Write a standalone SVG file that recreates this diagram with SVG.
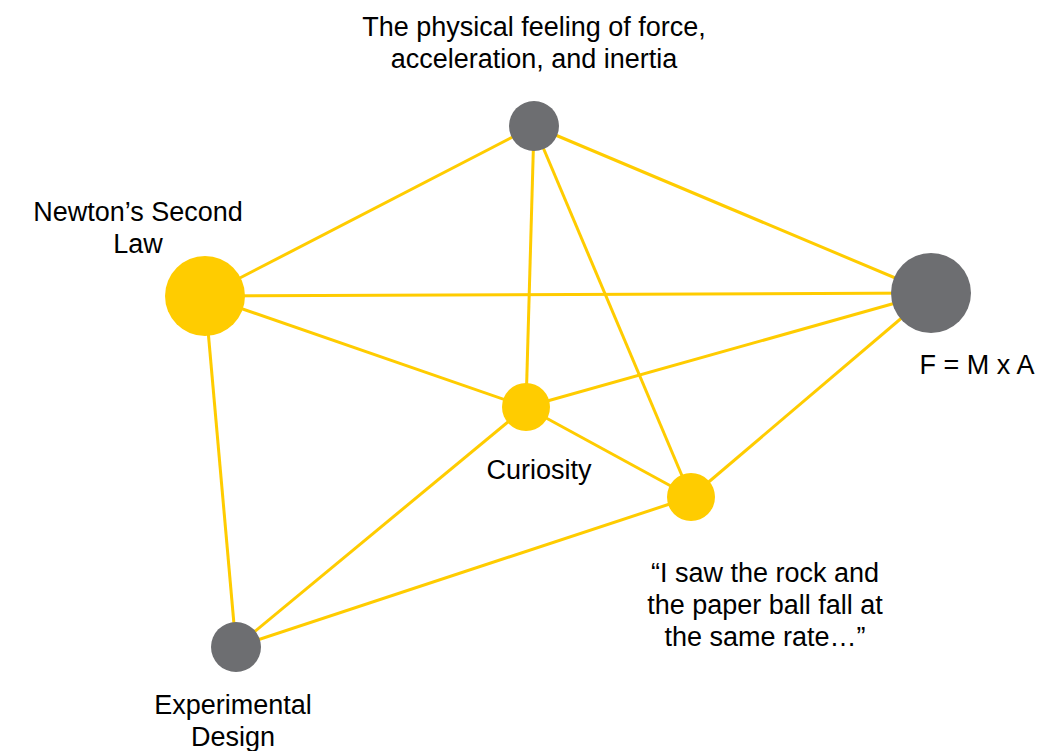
<svg xmlns="http://www.w3.org/2000/svg" width="1046" height="751" viewBox="0 0 1046 751">
<style>
.e{stroke:#FFCC00;stroke-width:3;fill:none}
.y{fill:#FFCC00}
.g{fill:#6D6E71}
text{font-family:"Liberation Sans",Arial,sans-serif;font-size:27px;fill:#000;text-anchor:middle}
</style>
<rect width="1046" height="751" fill="#fff"/>
<g id="connectors">
<line class="e" x1="534" y1="126" x2="205" y2="296"/>
<line class="e" x1="534" y1="126" x2="931" y2="293"/>
<line class="e" x1="534" y1="126" x2="526" y2="407"/>
<line class="e" x1="534" y1="126" x2="691" y2="497"/>
<line class="e" x1="205" y1="296" x2="931" y2="293"/>
<line class="e" x1="205" y1="296" x2="526" y2="407"/>
<line class="e" x1="205" y1="296" x2="236" y2="647"/>
<line class="e" x1="526" y1="407" x2="931" y2="293"/>
<line class="e" x1="526" y1="407" x2="691" y2="497"/>
<line class="e" x1="526" y1="407" x2="236" y2="647"/>
<line class="e" x1="691" y1="497" x2="931" y2="293"/>
<line class="e" x1="691" y1="497" x2="236" y2="647"/>
</g>
<g id="n-physical"><circle class="g" cx="534" cy="126" r="25"/><text x="534" y="36">The physical feeling of force,</text><text x="534" y="68">acceleration, and inertia</text></g>
<g id="n-newton"><circle class="y" cx="205" cy="296" r="40"/><text x="138" y="221">Newton’s Second</text><text x="138" y="253">Law</text></g>
<g id="n-fma"><circle class="g" cx="931" cy="293" r="40"/><text x="977" y="374">F = M x A</text></g>
<g id="n-curiosity"><circle class="y" cx="526" cy="407" r="24"/><text x="539" y="479">Curiosity</text></g>
<g id="n-quote"><circle class="y" cx="691" cy="497" r="24"/><text x="765" y="582">“I saw the rock and</text><text x="765" y="614">the paper ball fall at</text><text x="765" y="646">the same rate…”</text></g>
<g id="n-experimental"><circle class="g" cx="236" cy="647" r="25"/><text x="233" y="714">Experimental</text><text x="233" y="746">Design</text></g>
</svg>
